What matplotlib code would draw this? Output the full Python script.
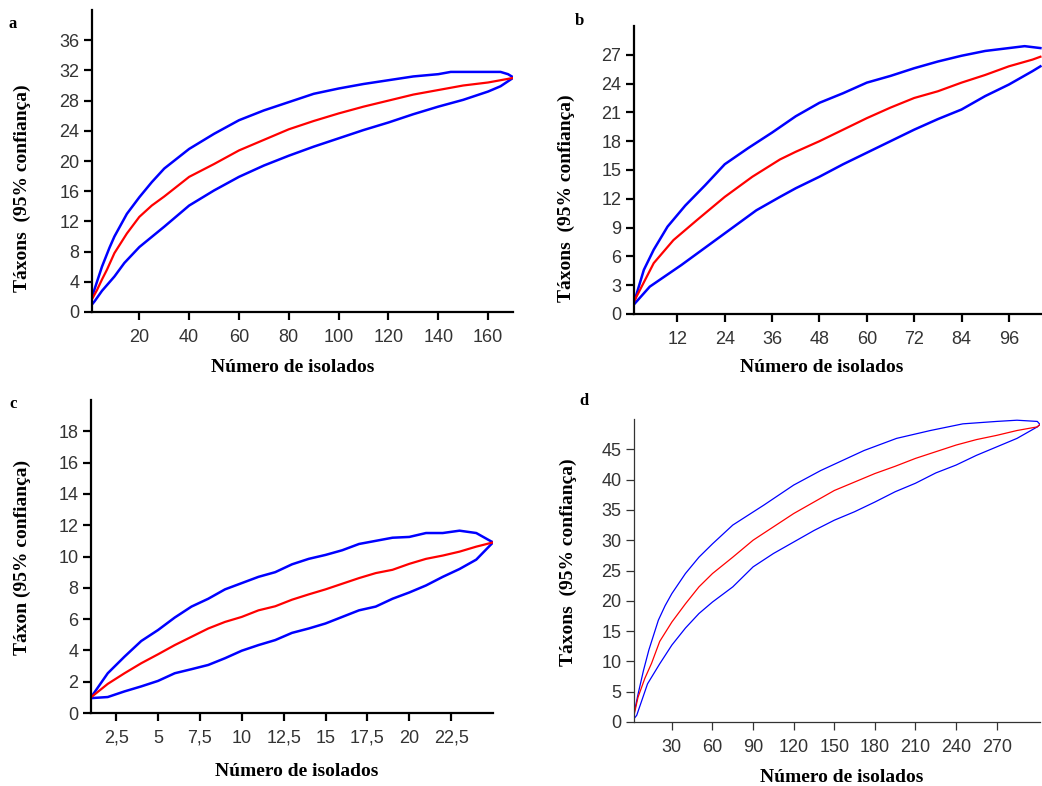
import matplotlib
matplotlib.use('Agg')
import matplotlib.pyplot as plt

W = 1042
H = 786

# ---- panel a ----
a_x_mean = [1, 3, 5, 7, 10, 15, 20, 25, 30, 40, 50, 60, 70, 80, 90, 100, 110, 120, 130, 140, 150, 160, 170]
a_mean = [1.7, 2.9, 4.3, 5.6, 7.8, 10.4, 12.6, 14.1, 15.3, 17.9, 19.6, 21.4, 22.8, 24.2, 25.3, 26.3, 27.2, 28.0, 28.8, 29.4, 30.0, 30.4, 31.0]
a_x_up = [1, 3, 5, 8, 10, 15, 20, 25, 30, 40, 50, 60, 70, 80, 90, 100, 110, 120, 130, 140, 145, 155, 165, 168, 170]
a_up = [2.0, 4.0, 6.0, 8.5, 10.0, 13.0, 15.2, 17.2, 19.0, 21.6, 23.6, 25.4, 26.7, 27.8, 28.9, 29.6, 30.2, 30.7, 31.2, 31.5, 31.8, 31.8, 31.8, 31.5, 31.1]
a_x_lo = [1, 2, 5, 10, 14, 20, 30, 40, 50, 60, 70, 80, 90, 100, 110, 120, 130, 140, 150, 160, 165, 170]
a_lo = [1.0, 1.4, 2.8, 4.7, 6.5, 8.6, 11.3, 14.1, 16.1, 17.9, 19.4, 20.7, 21.9, 23.0, 24.1, 25.1, 26.2, 27.2, 28.1, 29.2, 29.9, 31.0]
a_xticks = [20, 40, 60, 80, 100, 120, 140, 160]
a_yticks = [0, 4, 8, 12, 16, 20, 24, 28, 32, 36]

# ---- panel b ----
b_x_mean = [1, 3, 6, 11, 17, 24, 31, 38, 42, 48, 54, 60, 66, 72, 78, 84, 90, 96, 102, 104]
b_mean = [1.3, 2.9, 5.3, 7.7, 9.8, 12.2, 14.3, 16.1, 16.9, 18.0, 19.2, 20.4, 21.5, 22.5, 23.2, 24.1, 24.9, 25.8, 26.5, 26.8]
b_x_up = [1, 3.5, 6, 9.5, 14, 19, 24, 30, 36, 42, 48, 54, 60, 66, 72, 78, 84, 90, 96, 100, 104]
b_up = [1.2, 4.6, 6.7, 9.1, 11.3, 13.4, 15.6, 17.3, 18.9, 20.6, 22.0, 23.0, 24.1, 24.8, 25.6, 26.3, 26.9, 27.4, 27.7, 27.9, 27.7]
b_x_lo = [1, 5, 13, 20, 26, 32, 38, 42, 48, 54, 60, 66, 72, 78, 84, 90, 96, 102, 104]
b_lo = [1.0, 2.85, 5.1, 7.2, 9.0, 10.8, 12.2, 13.1, 14.3, 15.6, 16.8, 18.0, 19.2, 20.3, 21.3, 22.7, 23.9, 25.3, 25.8]
b_xticks = [12, 24, 36, 48, 60, 72, 84, 96]
b_yticks = [0, 3, 6, 9, 12, 15, 18, 21, 24, 27]

# ---- panel c ----
c_x = list(range(1, 26))
c_mean = [1.0, 1.86, 2.54, 3.18, 3.75, 4.34, 4.87, 5.4, 5.82, 6.14, 6.56, 6.82, 7.24, 7.58, 7.9, 8.26, 8.62, 8.94, 9.15, 9.53, 9.85, 10.06, 10.31, 10.63, 10.9]
c_up = [1.0, 2.54, 3.6, 4.6, 5.3, 6.1, 6.8, 7.3, 7.9, 8.3, 8.7, 9.0, 9.5, 9.85, 10.1, 10.4, 10.8, 11.0, 11.2, 11.25, 11.5, 11.5, 11.65, 11.5, 10.9]
c_lo = [0.95, 1.02, 1.38, 1.7, 2.05, 2.54, 2.8, 3.07, 3.5, 3.98, 4.34, 4.66, 5.12, 5.4, 5.72, 6.14, 6.56, 6.8, 7.3, 7.7, 8.15, 8.7, 9.2, 9.8, 10.9]
c_xticks = [2.5, 5, 7.5, 10, 12.5, 15, 17.5, 20, 22.5]
c_xticklabels = ['2,5', '5', '7,5', '10', '12,5', '15', '17,5', '20', '22,5']
c_yticks = [0, 2, 4, 6, 8, 10, 12, 14, 16, 18]

# ---- panel d ----
d_x_mean = [2, 5, 10, 15, 21, 30, 40, 50, 60, 75, 90, 105, 120, 135, 150, 165, 180, 195, 210, 225, 240, 255, 270, 285, 300, 302]
d_mean = [1.1, 4.1, 7.2, 9.7, 13.3, 16.5, 19.5, 22.3, 24.5, 27.2, 30.0, 32.2, 34.4, 36.3, 38.2, 39.6, 41.0, 42.2, 43.5, 44.6, 45.7, 46.6, 47.3, 48.1, 48.7, 49.1]
d_x_up = [2, 5, 9, 13, 16, 20, 25, 30, 40, 50, 60, 75, 98, 120, 140, 172, 196, 221, 245, 270, 285, 300, 302]
d_up = [1.4, 4.6, 8.5, 11.9, 14.0, 16.8, 19.2, 21.2, 24.5, 27.2, 29.4, 32.5, 35.8, 39.1, 41.5, 44.8, 46.8, 48.1, 49.2, 49.6, 49.8, 49.6, 49.1]
d_x_lo = [2, 4, 12, 21, 30, 40, 50, 60, 75, 90, 105, 120, 135, 150, 165, 180, 195, 210, 225, 240, 255, 270, 285, 300, 302]
d_lo = [0.55, 1.1, 6.3, 9.6, 12.7, 15.5, 17.9, 19.8, 22.3, 25.6, 27.8, 29.7, 31.6, 33.3, 34.7, 36.3, 38.0, 39.4, 41.1, 42.4, 44.0, 45.4, 46.8, 48.7, 49.1]
d_xticks = [30, 60, 90, 120, 150, 180, 210, 240, 270]
d_yticks = [0, 5, 10, 15, 20, 25, 30, 35, 40, 45]

xlabel = 'Número de isolados'
ylabel = 'Táxons  (95% confiança)'
ylabel_c = 'Táxon (95% confiança)'

blue = '#0000ff'
red = '#ff0000'
tick_font = 'Liberation Sans'
label_font = 'Liberation Serif'


def style_axes(ax, lw, col):
	for s in ['top', 'right']:
		ax.spines[s].set_visible(False)
	for s in ['left', 'bottom']:
		ax.spines[s].set_linewidth(lw)
		ax.spines[s].set_color(col)
	ax.tick_params(axis='both', direction='out', length=6, width=lw, color=col,
		labelsize=13, labelcolor='#333333')
	ax.tick_params(axis='x', pad=6)
	ax.tick_params(axis='y', pad=3)
	for t in ax.get_xticklabels() + ax.get_yticklabels():
		t.set_fontfamily(tick_font)


fig = plt.figure(figsize=(W / 100, H / 100), dpi=100)

def px_axes(left, top, right, bottom):
	return fig.add_axes([left / W, 1 - bottom / H, (right - left) / W, (bottom - top) / H])

# a
ax = px_axes(92, 10, 513, 312)
ax.plot(a_x_up, a_up, color=blue, lw=1.8)
ax.plot(a_x_lo, a_lo, color=blue, lw=1.8)
ax.plot(a_x_mean, a_mean, color=red, lw=1.6)
ax.set_xlim(1, 170)
ax.set_ylim(0, 40)
ax.set_xticks(a_xticks)
ax.set_yticks(a_yticks)
style_axes(ax, 1.6, 'black')

# b
ax = px_axes(634, 26, 1042, 314)
ax.plot(b_x_up, b_up, color=blue, lw=1.8)
ax.plot(b_x_lo, b_lo, color=blue, lw=1.8)
ax.plot(b_x_mean, b_mean, color=red, lw=1.6)
ax.set_xlim(1, 104.4)
ax.set_ylim(0, 30)
ax.set_xticks(b_xticks)
ax.set_yticks(b_yticks)
style_axes(ax, 1.6, 'black')

# c
ax = px_axes(91, 400, 493, 713)
ax.plot(c_x, c_up, color=blue, lw=1.8)
ax.plot(c_x, c_lo, color=blue, lw=1.8)
ax.plot(c_x, c_mean, color=red, lw=1.6)
ax.set_xlim(1, 25)
ax.set_ylim(0, 20)
ax.set_xticks(c_xticks)
ax.set_xticklabels(c_xticklabels)
ax.set_yticks(c_yticks)
style_axes(ax, 1.6, 'black')

# d
ax = px_axes(634, 419, 1040, 722)
ax.plot(d_x_up, d_up, color=blue, lw=0.9)
ax.plot(d_x_lo, d_lo, color=blue, lw=0.9)
ax.plot(d_x_mean, d_mean, color=red, lw=0.9)
ax.set_xlim(2, 302)
ax.set_ylim(0, 50)
ax.set_xticks(d_xticks)
ax.set_yticks(d_yticks)
style_axes(ax, 0.9, '#333333')

# labels
lab = dict(fontfamily=label_font, fontweight='bold', fontsize=14, ha='center', va='center')
fig.text(293 / W, 1 - 368 / H, xlabel, **lab)
fig.text(822 / W, 1 - 367 / H, xlabel, **lab)
fig.text(297 / W, 1 - 772 / H, xlabel, **lab)
fig.text(842 / W, 1 - 777 / H, xlabel, **lab)
fig.text(22 / W, 1 - 188 / H, ylabel, rotation=90, **lab)
fig.text(566 / W, 1 - 198 / H, ylabel, rotation=90, **lab)
fig.text(22 / W, 1 - 557 / H, ylabel_c, rotation=90, **lab)
fig.text(568 / W, 1 - 562 / H, ylabel, rotation=90, **lab)

let = dict(fontfamily=label_font, fontweight='bold', fontsize=12, ha='center', va='center')
fig.text(13 / W, 1 - 24 / H, 'a', **let)
fig.text(579 / W, 1 - 21 / H, 'b', **let)
fig.text(13 / W, 1 - 404 / H, 'c', **let)
fig.text(584 / W, 1 - 401 / H, 'd', **let)

plt.savefig('out.png', dpi=100)
